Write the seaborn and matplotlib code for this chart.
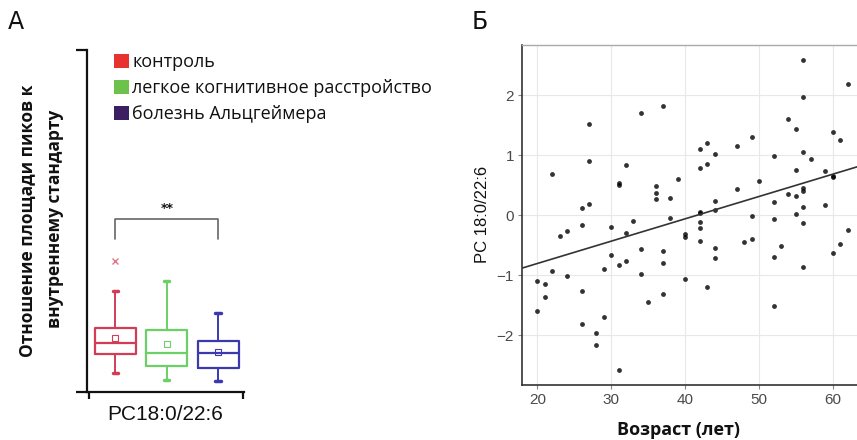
import matplotlib
matplotlib.use("Agg")
import matplotlib.pyplot as plt
from matplotlib.patches import Patch
import numpy as np
import pandas as pd
import seaborn as sns

# ---- Panel A: lipid PC18:0/22:6 box summaries (arbitrary ratio units) ----
groups = ["контроль", "легкое когнитивное расстройство", "болезнь Альцгеймера"]
legend_colors = ["#e8322f", "#6cc24a", "#3b1f60"]
box_colors = ["#d23c57", "#6ccf68", "#3c39ae"]
whisker_low = [0.56, 0.35, 0.32]
quart1 = [1.11, 0.76, 0.70]
medians = [1.43, 1.14, 1.14]
quart3 = [1.87, 1.81, 1.49]
whisker_high = [2.95, 3.25, 2.31]
means = [1.58, 1.40, 1.17]
outliers = [[3.83], [], []]
lipid_label = "PC18:0/22:6"
signif_label = "**"

# ---- Panel B: PC 18:0/22:6 vs age ----
age = [20, 20, 21, 21, 22, 22, 23, 24, 24, 26, 26, 26, 26, 27, 27, 27, 28, 28,
       29, 29, 30, 30, 31, 31, 31, 31, 32, 32, 32, 33, 34, 34, 34, 35, 36, 36,
       36, 37, 37, 37, 37, 38, 38, 39, 40, 40, 40, 42, 42, 42, 42, 42, 42, 42,
       43, 43, 43, 44, 44, 44, 44, 44, 47, 47, 48, 49, 49, 49, 50, 52, 52, 52,
       52, 52, 53, 54, 54, 55, 55, 55, 55, 56, 56, 56, 56, 56, 56, 56, 56, 57,
       59, 59, 60, 60, 60, 60, 61, 61, 62, 62]
pc_value = [-1.10, -1.60, -1.15, -1.37, 0.69, -0.93, -0.34, -0.27, -1.02, 0.12,
            -0.16, -1.26, -1.82, 1.52, 0.90, 0.19, -1.97, -2.17, -0.90, -1.70,
            -0.19, -0.66, 0.54, 0.51, -0.83, -2.58, 0.83, -0.29, -0.76, -0.09,
            1.70, -0.57, -0.98, -1.44, 0.48, 0.37, 0.27, 1.82, -0.60, -0.79,
            -1.31, 0.29, -0.04, 0.60, -0.32, -0.37, -1.06, 1.11, 0.79, 0.06,
            0.04, -0.11, -0.21, -0.43, 1.21, 0.86, -1.20, 1.02, 0.24, 0.09,
            -0.54, -0.72, 1.16, 0.43, -0.45, 1.31, -0.01, -0.40, 0.57, 0.98,
            0.22, -0.06, -0.69, -1.52, -0.51, 1.61, 0.35, 1.44, 0.76, 0.32,
            0.02, 2.58, 1.97, 1.06, 0.45, 0.40, 0.14, -0.13, -0.86, 0.94,
            0.73, 0.17, 1.38, 0.66, 0.63, -0.63, 1.26, -0.48, 2.18, -0.24]
age_ticks = [20, 30, 40, 50, 60]
pc_ticks = [-2, -1, 0, 1, 2]

sns.set_theme(style="white")
plt.rcParams["font.family"] = ["DejaVu Sans"]

BOLD_FONT = ["Open Sans", "DejaVu Sans"]
TEXT_FONT = ["Open Sans", "DejaVu Sans"]

W, H = 857, 440
fig = plt.figure(figsize=(W / 100, H / 100), dpi=100)

# ---------------- Panel A ----------------
axA = fig.add_axes([87 / W, (H - 392) / H, (244 - 87) / W, (392 - 50) / H])
pos = [1, 2, 3]
for i in range(3):
    c = box_colors[i]
    st = dict(med=medians[i], q1=quart1[i], q3=quart3[i],
              whislo=whisker_low[i], whishi=whisker_high[i],
              mean=means[i], fliers=outliers[i])
    axA.bxp([st], positions=[pos[i]], widths=0.8, showmeans=True,
            capwidths=0.1,
            boxprops=dict(color=c, lw=1.6),
            medianprops=dict(color=c, lw=1.6),
            whiskerprops=dict(color=c, lw=1.4),
            capprops=dict(color=c, lw=2.5),
            meanprops=dict(marker="s", markerfacecolor="none",
                           markeredgecolor=c, markersize=4, mew=0.8),
            flierprops=dict(marker="x", markeredgecolor=c, markersize=4,
                            mew=1.0, alpha=0.7))
axA.set_xlim(0.444, 3.507)
axA.set_ylim(0, 10)
for s in ["top", "right"]:
    axA.spines[s].set_visible(False)
for s in ["left", "bottom"]:
    axA.spines[s].set_color("#111111")
    axA.spines[s].set_linewidth(1.6)
axA.set_yticks([0, 10])
axA.set_yticklabels([])
axA.set_xticks([0.444 + 0.04, 3.507 - 0.02])
axA.set_xticklabels([])
axA.tick_params(axis="y", direction="out", length=8, width=1.6, color="#111111", left=True)
axA.tick_params(axis="x", direction="out", length=5, width=1.6, color="#111111", bottom=True)
axA.set_xlabel(lipid_label, fontsize=15, family=["Liberation Sans"], labelpad=1, color="#111111")

# significance bracket
axA.plot([1, 1, 3, 3], [4.47, 5.06, 5.06, 4.47], color="#666666", lw=1.2, clip_on=False)
axA.text(2, 5.18, signif_label, ha="center", va="bottom", fontsize=9,
         fontweight="bold", color="#111111")

fig.text(28 / W, 1 - 221 / H, "Отношение площади пиков к", rotation=90,
         ha="center", va="center", fontsize=12.5, fontweight="bold",
         family=BOLD_FONT, color="#111111")
fig.text(55 / W, 1 - 219 / H, "внутреннему стандарту", rotation=90,
         ha="center", va="center", fontsize=12.5, fontweight="bold",
         family=BOLD_FONT, color="#111111")

handles = [Patch(facecolor=c, edgecolor="none") for c in legend_colors]
leg = fig.legend(handles, groups, loc="upper left", bbox_to_anchor=(114 / W, 1 - 53 / H),
                 frameon=False, handlelength=0.85, handleheight=0.85, handletextpad=0.15,
                 labelspacing=0.45, borderaxespad=0, borderpad=0,
                 prop=dict(family=TEXT_FONT, size=13))
for t in leg.get_texts():
    t.set_color("#111111")

fig.text(8 / W, 1 - 22 / H, "А", fontsize=17, ha="left", va="center", color="#111111")

# ---------------- Panel B ----------------
axB = fig.add_axes([522.3 / W, (H - 385) / H, (W - 522.3) / W + 0.001, (385 - 44.7) / H])
axB.set_xlim(17.96, 63.4)
axB.set_ylim(-2.83, 2.84)
df = pd.DataFrame({"age": age, "pc": pc_value})
sns.regplot(data=df, x="age", y="pc", ax=axB, ci=None, truncate=False,
            scatter_kws=dict(s=12, color="black", linewidths=0),
            line_kws=dict(color="#333333", lw=1.2))
axB.set_xlim(17.96, 63.4)
axB.set_ylim(-2.83, 2.84)
axB.set_xticks(age_ticks)
axB.set_yticks(pc_ticks)
axB.grid(True, color="#e6e8ec", lw=0.8)
axB.set_axisbelow(True)
axB.spines["right"].set_visible(False)
axB.spines["top"].set_color("#aaaaaa")
axB.spines["top"].set_linewidth(1.0)
for s in ["left", "bottom"]:
    axB.spines[s].set_color("#333333")
    axB.spines[s].set_linewidth(1.2)
axB.tick_params(axis="both", direction="out", length=3, width=0.8, color="#888888",
                labelcolor="#4a4a4a", labelsize=11, bottom=True, left=True, pad=3)
for lab in axB.get_xticklabels() + axB.get_yticklabels():
    lab.set_family(["Liberation Sans"])
axB.set_xlabel("Возраст (лет)", fontsize=13, fontweight="bold",
               family=BOLD_FONT, color="#111111")
axB.xaxis.set_label_coords((678 - 522.3) / (W - 522.3), -(430 - 385) / (385 - 44.7))
axB.xaxis.label.set_va("center")
axB.set_ylabel("PC 18:0/22:6", fontsize=12, family=["Liberation Sans"],
               color="#111111")
axB.yaxis.set_label_coords(-(522.3 - 483) / (W - 522.3), 0.5)
axB.yaxis.label.set_va("center")

fig.text(472 / W, 1 - 22 / H, "Б", fontsize=17, ha="left", va="center", color="#111111")

fig.savefig("out.png", dpi=100)
